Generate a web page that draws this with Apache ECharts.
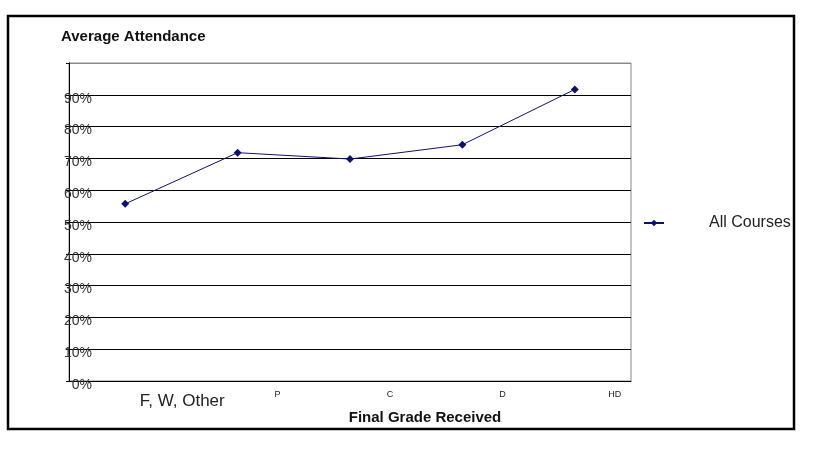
<!DOCTYPE html>
<html>
<head>
<meta charset="utf-8">
<script src="https://cdn.jsdelivr.net/npm/echarts@6/dist/echarts.min.js"></script>
<style>
  html, body { margin: 0; padding: 0; background: #fff; }
  #main { width: 834px; height: 459px; }
</style>
</head>
<body>
<div id="main"></div>
<script>
var grades = ['F, W, Other', 'P', 'C', 'D', 'HD']
var attendance = [55.7, 71.8, 69.8, 74.3, 91.7]
var seriesName = 'All Courses'

// gridline colours, 0% .. 100% (top one is the grey plot border)
var gridColors = ['#000', '#000', '#000', '#000', '#000', '#000', '#000', '#000', '#000', '#000', '#888']

var chart = echarts.init(document.getElementById('main'))
var option = {
  animation: false,
  title: {
    text: 'Average Attendance',
    left: 56,
    top: 24,
    textStyle: { fontFamily: 'Liberation Sans', fontSize: 15, fontWeight: 'bold', color: '#111' }
  },
  legend: {
    data: [seriesName],
    left: 638,
    top: 210,
    itemWidth: 20,
    itemHeight: 8,
    textStyle: {
      fontFamily: 'Liberation Sans',
      fontSize: 16,
      color: '#222',
      padding: [0, 0, 0, 40]
    }
  },
  grid: {
    left: 69,
    right: 203,
    top: 63,
    bottom: 78,
    show: true,
    borderColor: '#888',
    borderWidth: 1
  },
  xAxis: {
    type: 'category',
    data: grades,
    name: 'Final Grade Received',
    nameLocation: 'middle',
    nameGap: 29,
    nameMoveOverlap: false,
    nameTextStyle: {
      fontFamily: 'Liberation Sans', fontSize: 15, fontWeight: 'bold', color: '#111',
      padding: [0, 0, 0, 150]
    },
    axisLine: { lineStyle: { color: '#000' } },
    axisTick: { length: 4, lineStyle: { color: '#000' } },
    axisLabel: {
      interval: 0,
      margin: 12,
      formatter: function (v, i) {
        return i === 0 ? '{big|' + v + '}' : '{small|' + v + '}'
      },
      rich: {
        big: { fontFamily: 'Liberation Sans', fontSize: 17, color: '#222', padding: [0, 0, 0, 114] },
        small: { fontFamily: 'Liberation Sans', fontSize: 9, color: '#222', padding: [-3, 0, 0, 80] }
      }
    }
  },
  yAxis: {
    type: 'value',
    min: 0,
    max: 100,
    interval: 10,
    axisLine: { show: true, lineStyle: { color: '#000' } },
    axisTick: { show: true, length: 3, lineStyle: { color: '#000' } },
    splitLine: { lineStyle: { color: gridColors, width: 1 } },
    axisLabel: {
      margin: -23,
      fontFamily: 'Liberation Sans',
      fontSize: 14,
      color: '#333',
      verticalAlign: 'top',
      padding: [-3, 0, 0, 0],
      formatter: function (v) { return v === 100 ? '' : v + '%' }
    }
  },
  series: [{
    name: seriesName,
    type: 'line',
    data: attendance,
    symbol: 'diamond',
    symbolSize: 8,
    color: '#10106e',
    lineStyle: { width: 1, color: '#10106e' },
    itemStyle: { color: '#10106e' }
  }],
  graphic: [{
    type: 'rect',
    shape: { x: 8, y: 16, width: 786, height: 413 },
    style: { fill: null, stroke: '#000', lineWidth: 2.5 },
    z: 100
  }]
}
chart.setOption(option)
</script>
</body>
</html>
